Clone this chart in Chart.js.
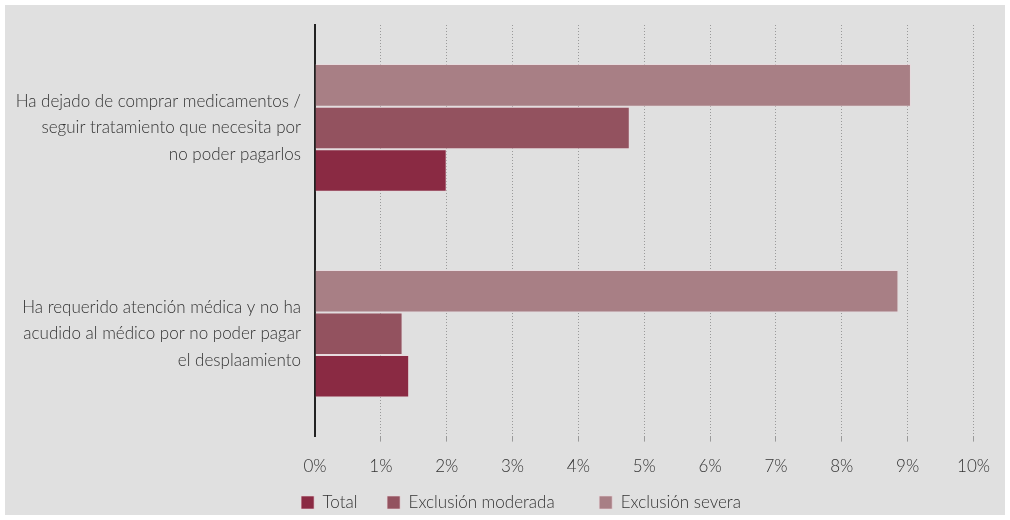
<!DOCTYPE html>
<html>
<head>
<meta charset="utf-8">
<script src="https://cdn.jsdelivr.net/npm/chart.js@4"></script>
<style>
  html, body { margin: 0; padding: 0; background: #ffffff; }
  #wrap { position: absolute; left: 5px; top: 5px; width: 1000px; height: 510px; background: #e0e0e0; }
</style>
</head>
<body>
<div id="wrap"><canvas id="chart"></canvas></div>
<script>
const categories = [
  ["Ha dejado de comprar medicamentos /", "seguir tratamiento que necesita por", "no poder pagarlos"],
  ["Ha requerido atención médica y no ha", "acudido al médico por no poder pagar", "el desplaamiento"]
];
const totalValues = [2.0, 1.43];
const moderadaValues = [4.78, 1.33];
const severaValues = [9.05, 8.86];
const xMax = 10;

const FONT = "Lato, 'Open Sans', sans-serif";

// gap after each legend entry (legend is reversed, so Total comes first)
const legendGaps = ["", "\u2002\u2002\u2002\u2002\u2002", "\u2002\u2002\u2002\u2009"];

// nudge the legend a bit to the right, like in the original
const legendShift = {
  id: "legendShift",
  afterLayout(chart) {
    chart.legend.left += 30;
    chart.legend.right += 30;
  }
};

new Chart(document.getElementById("chart"), {
  type: "bar",
  data: {
    labels: categories,
    datasets: [
      { label: "Exclusión severa", data: severaValues, backgroundColor: "#a87f85" },
      { label: "Exclusión moderada", data: moderadaValues, backgroundColor: "#93525f" },
      { label: "Total", data: totalValues, backgroundColor: "#8a2a43" }
    ].map((d) => ({ ...d, borderColor: "rgba(235,215,220,0.6)", borderWidth: 1, barPercentage: 1, categoryPercentage: 0.62 }))
  },
  plugins: [legendShift],
  options: {
    indexAxis: "y",
    responsive: true,
    maintainAspectRatio: false,
    animation: false,
    layout: { padding: { top: 20, right: 28, left: 0, bottom: -6 } },
    plugins: {
      tooltip: { enabled: false },
      legend: {
        position: "bottom",
        reverse: true,
        labels: {
          boxWidth: 13,
          boxHeight: 13,
          padding: 2,
          color: "#333",
          font: { family: FONT, size: 17, weight: 300 },
          generateLabels: (chart) =>
            Chart.defaults.plugins.legend.labels.generateLabels(chart).map((item) => ({
              ...item,
              text: item.text + legendGaps[item.datasetIndex]
            }))
        }
      }
    },
    scales: {
      x: {
        min: 0,
        max: xMax,
        ticks: {
          stepSize: 1,
          padding: 15,
          color: "#333",
          font: { family: FONT, size: 17, weight: 300 },
          callback: (v) => v + "%"
        },
        grid: {
          color: (ctx) => (ctx.index === 0 ? "rgba(0,0,0,0)" : "#9a9a9a"),
          tickLength: 5
        },
        border: { display: false, dash: [1, 2] }
      },
      y: {
        afterFit: (scale) => {
          scale.width = 310;
          scale.paddingTop = 0;
          scale.paddingBottom = 0;
        },
        ticks: {
          padding: 6,
          color: "#333",
          font: { family: FONT, size: 17, weight: 300, lineHeight: 1.55 }
        },
        grid: { display: false },
        border: { display: true, color: "#222", width: 2 }
      }
    }
  }
});
</script>
</body>
</html>
